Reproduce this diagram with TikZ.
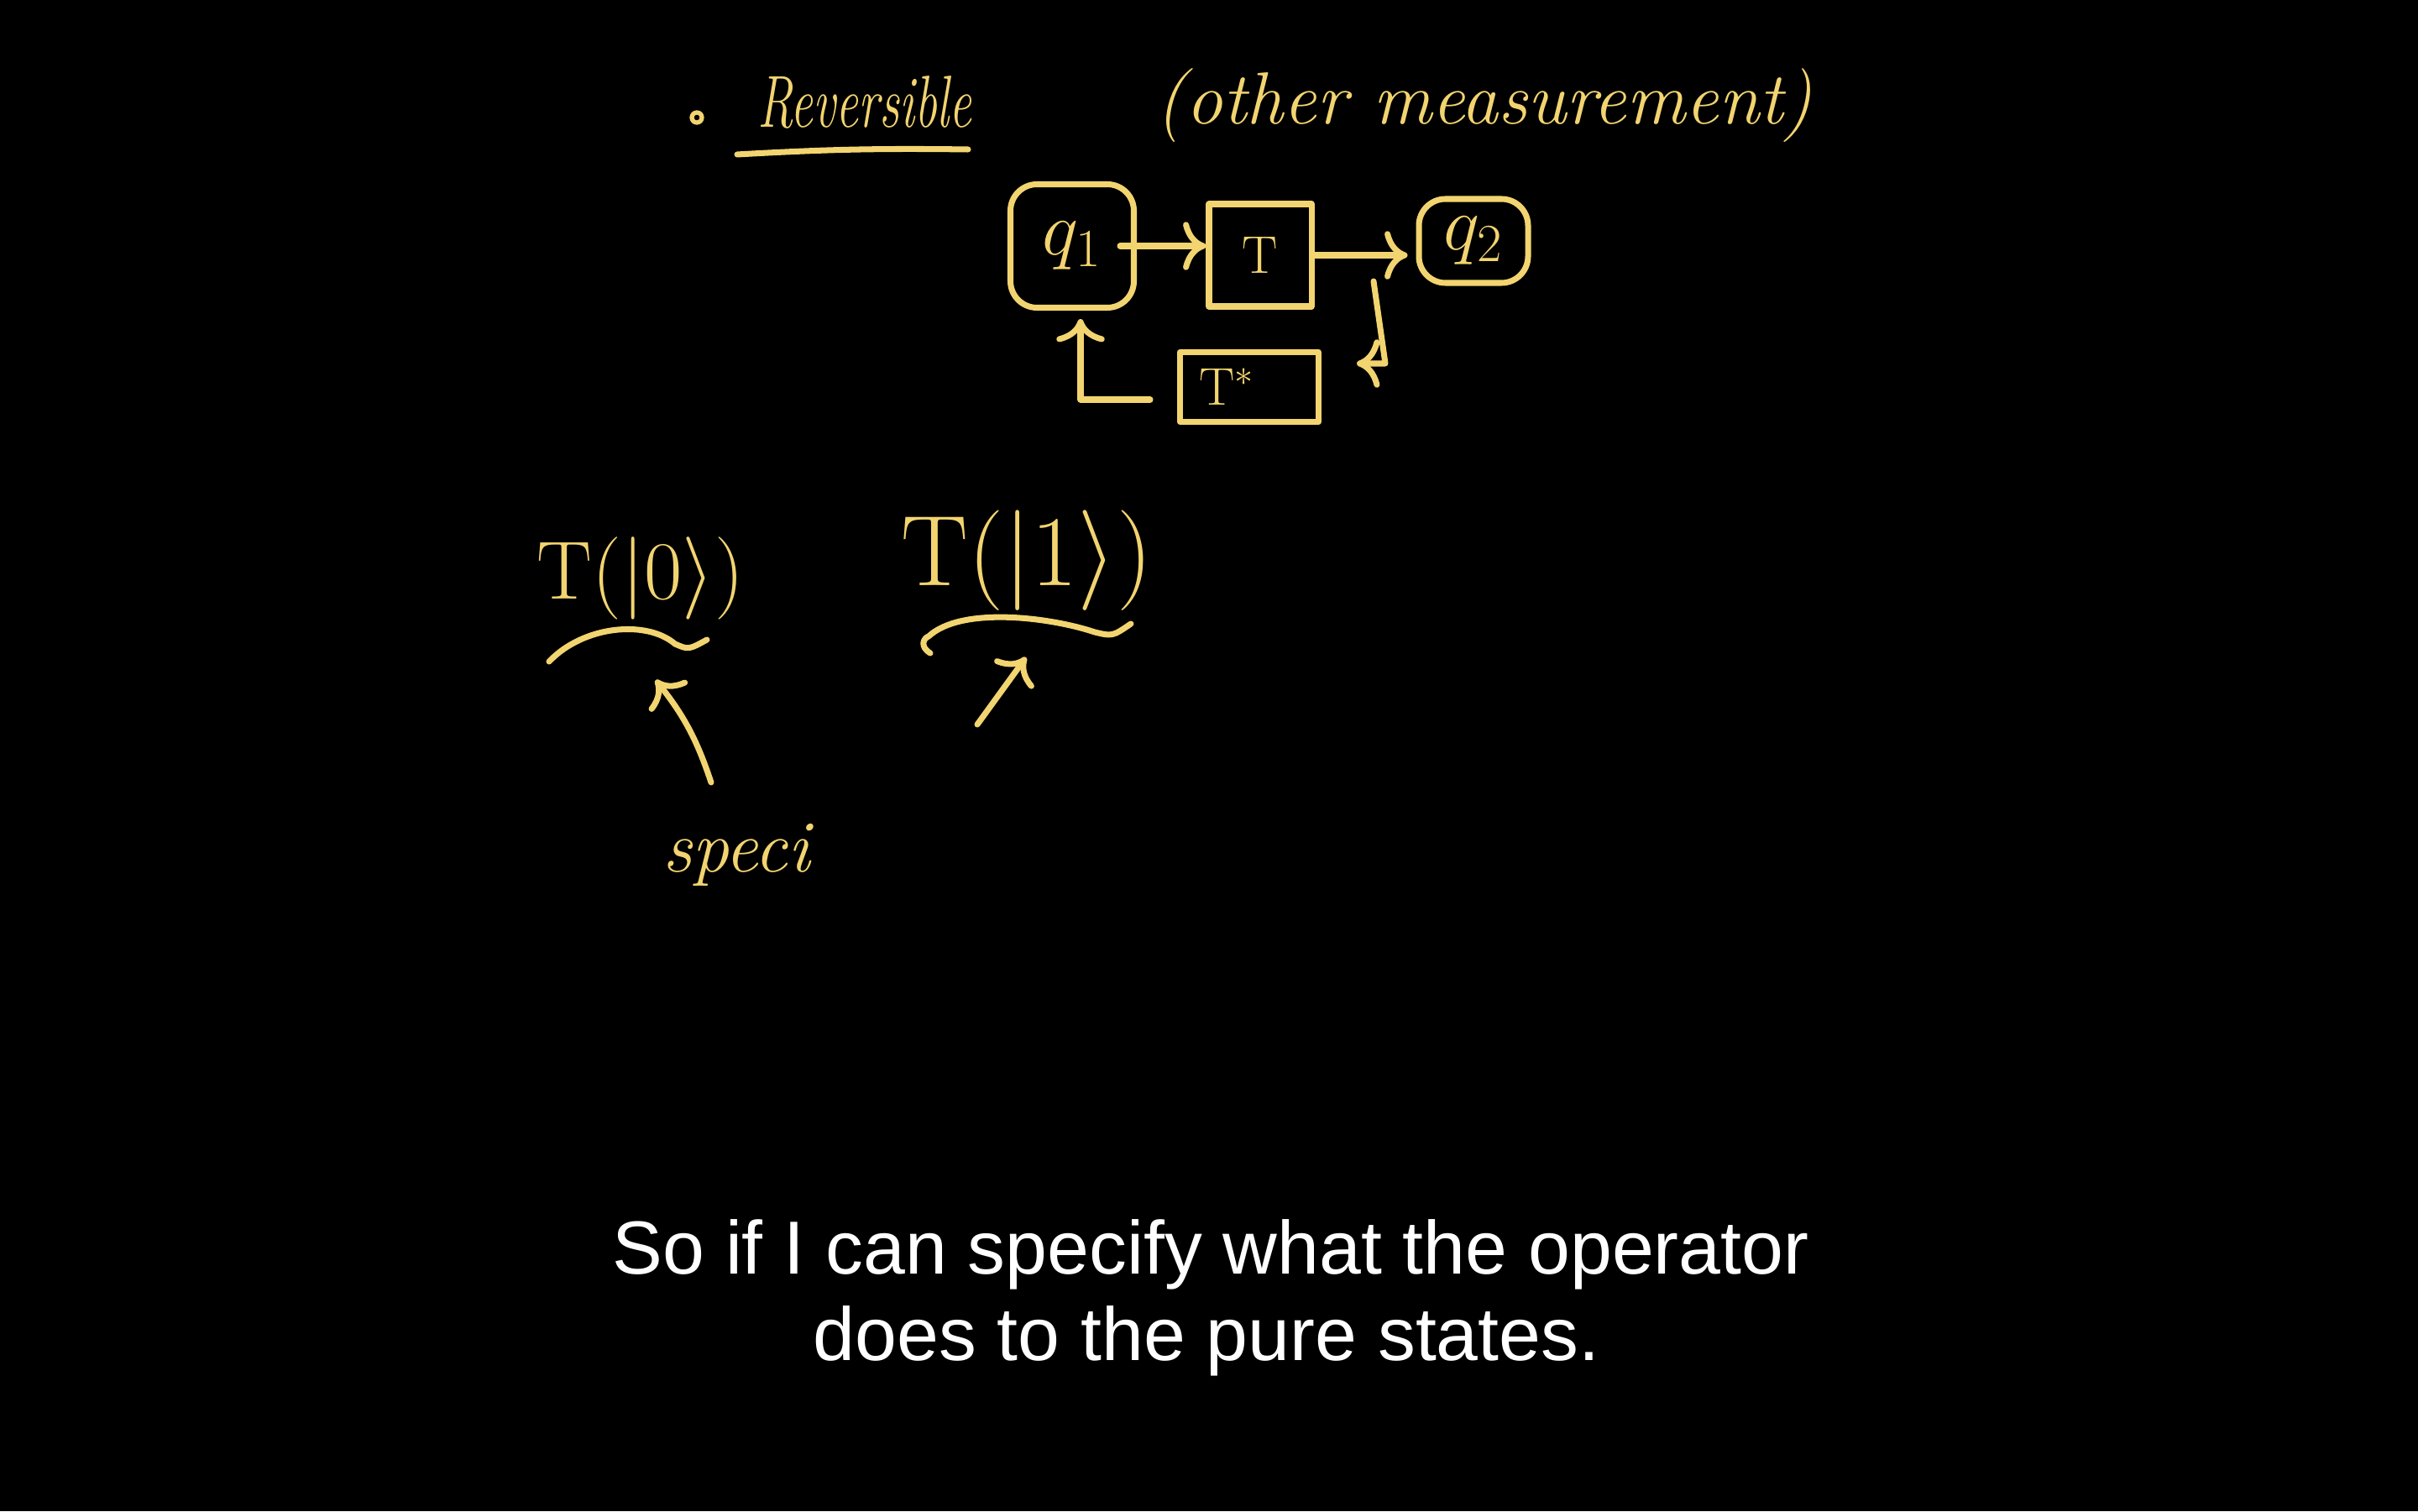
\documentclass[tikz,border=0pt]{standalone}
\usepackage{fix-cm}
\usepackage{fontspec}
\newfontfamily\capfont{Liberation Sans}
\usetikzlibrary{arrows.meta}

\definecolor{chalk}{RGB}{242,212,112}
\newcommand*{\handsize}{\fontsize{25}{30}\selectfont}
\newcommand*{\capsize}{\fontsize{25.5}{29}\selectfont}

\begin{document}
\begin{tikzpicture}
[
	pen/.style={chalk,line width=2pt,line cap=round,line join=round},
	hand/.style={text=chalk,font=\handsize\itshape,inner sep=0pt},
	ket/.style={text=chalk,inner sep=0pt},
	qbox/.style={pen,draw,rounded corners=9pt,text=chalk,font=\fontsize{26}{30}\selectfont},
	opbox/.style={pen,draw,text=chalk,font=\fontsize{18}{22}\selectfont},
	caption/.style={text=white,font=\capfont\capsize,inner sep=0pt},
	>={To[scale=1.3]}
]

	% background
	\fill[black] (0,0) rectangle (28.8,18);
	\useasboundingbox (0,0) rectangle (28.8,18);

	% heading
	\draw[pen,line width=1.5pt] (8.30,16.60) circle (0.06);
	\node[hand,anchor=base,xscale=0.68,transform shape] (rev) at (10.30,16.48) {Reversible};
	\draw[pen] (8.78,16.16) to[bend left=2] (11.53,16.22);
	\node[hand,anchor=base] (other) at (17.68,16.52) {(other measurement)};

	% boxes
	\node[qbox,minimum width=1.47cm,minimum height=1.47cm] (q1) at (12.77,15.07) {$q_1$};
	\node[opbox,minimum width=1.22cm,minimum height=1.22cm] (T) at (15.01,14.96) {$\mathrm{T}$};
	\node[qbox,minimum width=1.30cm,minimum height=1.00cm] (q2) at (17.55,15.13) {$q_2$};
	\node[opbox,minimum width=1.65cm,minimum height=0.83cm,text width=1.2cm] (Ts) at (14.88,13.39) {$\mathrm{T}^*$};

	\coordinate (fbtop) at (16.36,14.65);
	\coordinate (fbbot) at (16.50,13.67);

	% arrows
	\draw[pen,->] ([xshift=-2mm]q1.east) -- (q1.east -| T.west);
	\draw[pen,->,shorten >=1mm] (T.east) -- (T.east -| q2.west);
	\draw[pen,->] (fbtop) -- (fbbot) -- ([xshift=4.2mm]Ts.east |- fbbot);
	\draw[pen,->] ([shift={(-3.2mm,-1.5mm)}]Ts.west) -| ([shift={(1mm,-1mm)}]q1.south);

	% pure states
	\node[ket,anchor=base,font=\fontsize{28}{34}\selectfont] (t0) at (7.63,10.86) {$\mathrm{T}(|0\rangle)$};
	\node[ket,anchor=base,font=\fontsize{34}{40}\selectfont] (t1) at (12.23,11.02) {$\mathrm{T}(|1\rangle)$};

	\draw[pen] (6.54,10.12) .. controls (6.95,10.55) and (7.70,10.62) .. (8.04,10.33)
	  .. controls (8.20,10.26) .. (8.42,10.38);
	\draw[pen] (11.08,10.22) .. controls (10.95,10.30) and (11.00,10.40) .. (11.06,10.42)
	  .. controls (11.45,10.78) and (12.50,10.65) .. (13.04,10.47)
	  .. controls (13.25,10.42) .. (13.47,10.57);

	\node[hand,anchor=base] (spec) at (8.77,7.62) {speci};

	\coordinate (tail0) at (8.47,8.68);
	\coordinate (tip0) at (7.81,9.90);
	\coordinate (tail1) at (11.64,9.37);
	\coordinate (tip1) at (12.22,10.17);
	\draw[pen,->] (tail0) to[bend right=10] (tip0);
	\draw[pen,->] (tail1) -- (tip1);

	% subtitle
	\node[caption,anchor=base] (cap1) at (14.42,2.83) {So if I can specify what the operator};
	\node[caption,anchor=base] (cap2) at (14.37,1.80) {does to the pure states.};

\end{tikzpicture}
\end{document}
